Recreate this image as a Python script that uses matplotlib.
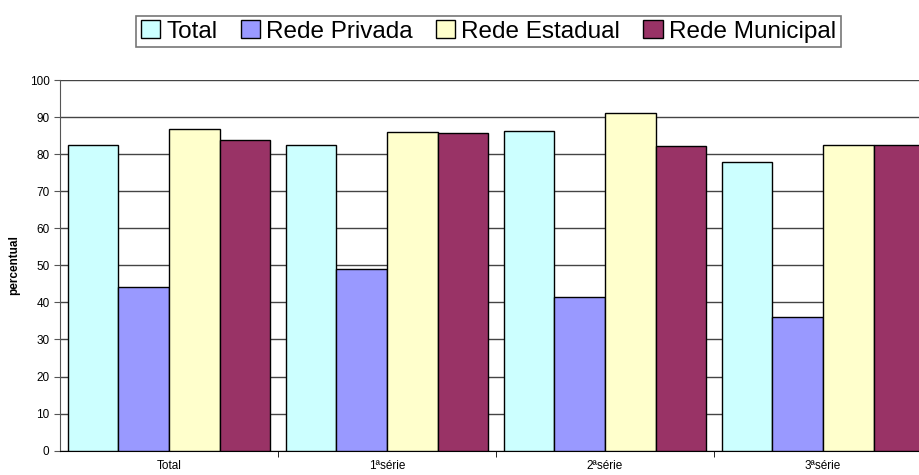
import numpy as np
import matplotlib.pyplot as plt

categorias = ["Total", "1ªsérie", "2ªsérie", "3ªsérie"]
series = ["Total", "Rede Privada", "Rede Estadual", "Rede Municipal"]
total = [82.6, 82.5, 86.2, 77.8]
privada = [44.2, 48.9, 41.4, 36.0]
estadual = [86.7, 85.9, 91.0, 82.5]
municipal = [83.7, 85.6, 82.2, 82.6]
cores = ["#CCFFFF", "#9999FF", "#FFFFCC", "#993366"]

plt.rcParams['font.family'] = ['Liberation Sans', 'DejaVu Sans']

fig = plt.figure(figsize=(9.2, 4.75), dpi=100)
ax = fig.add_axes([60/920, 24.3/475, 872/920, 370.7/475])

x = np.arange(len(categorias))
w = 0.93 / 4
for i, vals in enumerate([total, privada, estadual, municipal]):
    ax.bar(x - 0.465 + w*(i + 0.5), vals, w, color=cores[i], edgecolor="black",
           linewidth=1, label=series[i], zorder=3)

ax.set_xlim(-0.5, 3.5)
ax.set_ylim(0, 100)
ax.set_yticks(range(0, 101, 10))
ax.yaxis.grid(True, color="#444444", linewidth=1, zorder=0)
ax.set_xticks(x)
ax.set_xticklabels(categorias, fontsize=8.5)
ax.set_xticks([0.5, 1.5, 2.5], minor=True)
ax.tick_params(axis="x", which="major", length=0, pad=7)
ax.tick_params(axis="x", which="minor", length=4, direction="out", color="black")
ax.tick_params(axis="y", labelsize=8.5, length=4, color="#555555")
for s in ["top", "right"]:
    ax.spines[s].set_visible(False)
ax.spines["left"].set_color("#555555")
ax.spines["bottom"].set_color("black")
ax.set_ylabel("percentual", fontsize=8.5, fontweight="bold", labelpad=7)

leg = fig.legend(loc="center", bbox_to_anchor=(488.5/920, 1 - 31.5/475), ncol=4,
                 fontsize=17.5, frameon=True, fancybox=False, edgecolor="#555555",
                 handlelength=0.8, handleheight=0.7, handletextpad=0.25,
                 columnspacing=0.95, borderpad=0.2, borderaxespad=0)
leg.get_frame().set_linewidth(1.2)

fig.savefig("out.png", dpi=100)
